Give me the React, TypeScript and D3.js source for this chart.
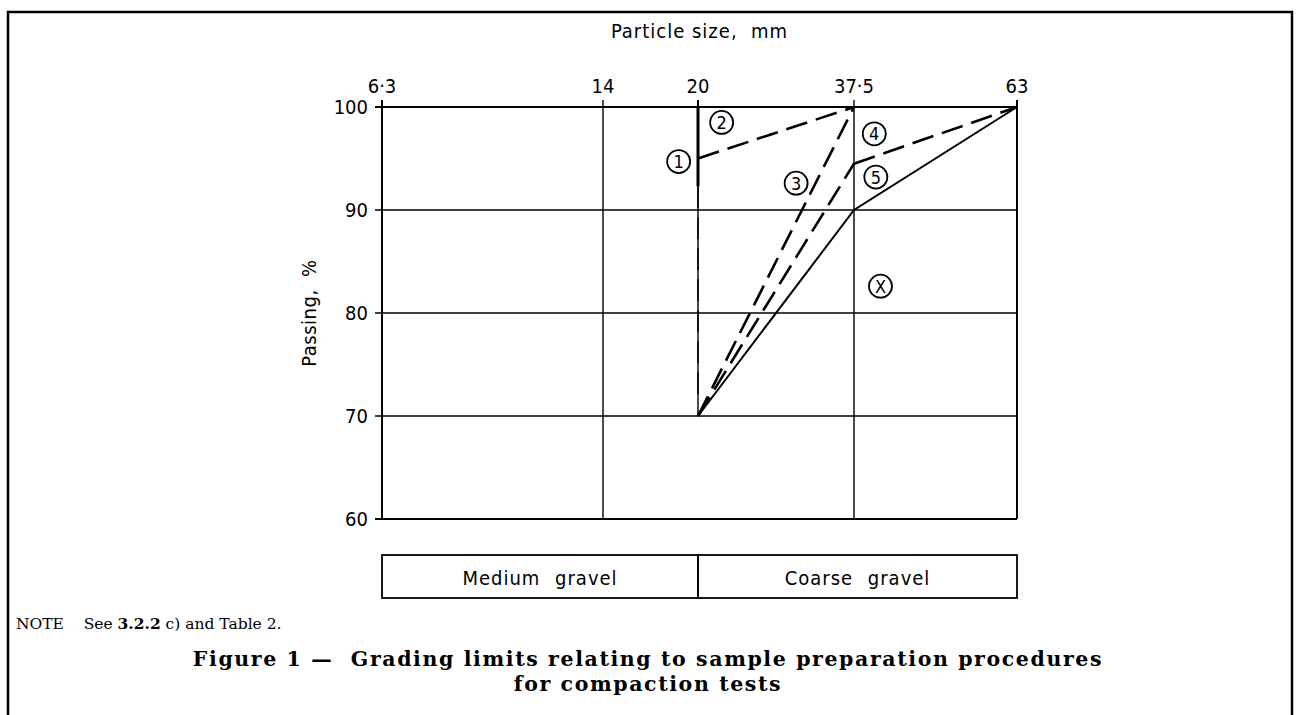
import { useEffect, useRef } from "react";
import * as d3 from "d3";

// sieve sizes along the top (mm) and their printed labels
const sizeTicks = [6.3, 14, 20, 37.5, 63];
const sizeLabels = ["6·3", "14", "20", "37·5", "63"];
// passing percentages on the left
const passTicks = [60, 70, 80, 90, 100];

// grading limit lines, [size mm, passing %]
const line1Thick: [number, number][] = [[20, 100], [20, 92.3]];
const line1Thin: [number, number][] = [[20, 92.3], [20, 72]];
const line2: [number, number][] = [[20, 95], [37.5, 100]];
const line3: [number, number][] = [[20, 70], [37.5, 100]];
const line4: [number, number][] = [[37.5, 94.5], [63, 100]];
const line5: [number, number][] = [[20, 70], [37.5, 94.5]];
const lineX: [number, number][] = [[20, 70], [37.5, 90], [63, 100]];

// circled call-outs: label, size, passing
const callouts: [string, number, number][] = [
  ["1", 18.6, 94.7],
  ["2", 22.0, 98.5],
  ["3", 29.7, 92.6],
  ["4", 40.0, 97.4],
  ["5", 40.2, 93.2],
  ["X", 40.8, 82.6],
];

const zones = [
  { name: "Medium gravel", from: 6.3, to: 20 },
  { name: "Coarse gravel", from: 20, to: 63 },
];

const W = 1299;
const H = 715;
const tech = "'DejaVu Sans Condensed', 'DejaVu Sans', sans-serif";
const serif = "'DejaVu Serif', 'Liberation Serif', serif";

export default function App() {
  const ref = useRef<SVGSVGElement>(null);

  useEffect(() => {
    document.body.style.margin = "0";
    const svg = d3.select(ref.current);
    svg.selectAll("*").remove();

    // piecewise log scale, the printed sieve spacing is not a pure log
    const x = d3.scaleLog().domain(sizeTicks).range([382, 603, 698, 854, 1017]);
    const y = d3.scaleLinear().domain([60, 100]).range([519, 107]);

    // frame
    svg
      .append("path")
      .attr("d", `M8,${H} V12 H1292 V${H}`)
      .attr("fill", "none")
      .attr("stroke", "#000")
      .attr("stroke-width", 2.5);

    const g = svg.append("g");

    // horizontal grid
    g.selectAll("line.h")
      .data(passTicks)
      .join("line")
      .attr("x1", x(6.3) - 7)
      .attr("x2", x(63))
      .attr("y1", (d) => y(d))
      .attr("y2", (d) => y(d))
      .attr("stroke", "#000")
      .attr("stroke-width", (d) => (d === 100 || d === 60 ? 2 : 1.4));

    // vertical grid (20 mm only solid below 70 %)
    g.selectAll("line.v")
      .data(sizeTicks)
      .join("line")
      .attr("x1", (d) => x(d))
      .attr("x2", (d) => x(d))
      .attr("y1", y(100) - 7)
      .attr("y2", (d) => (d === 20 ? y(70) : y(60)))
      .attr("stroke", "#000")
      .attr("stroke-width", (d) => (d === 6.3 || d === 63 ? 2 : 1.4));
    g.append("line")
      .attr("x1", x(20))
      .attr("x2", x(20))
      .attr("y1", y(100) - 7)
      .attr("y2", y(100))
      .attr("stroke", "#000")
      .attr("stroke-width", 2);

    // tick labels
    g.selectAll("text.xt")
      .data(sizeTicks)
      .join("text")
      .attr("x", (d) => x(d))
      .attr("y", y(100) - 14)
      .attr("text-anchor", "middle")
      .style("font-family", tech)
      .style("font-size", "20px")
      .text((d, i) => sizeLabels[i]);

    g.selectAll("text.yt")
      .data(passTicks)
      .join("text")
      .attr("x", x(6.3) - 14)
      .attr("y", (d) => y(d) + 7)
      .attr("text-anchor", "end")
      .style("font-family", tech)
      .style("font-size", "20px")
      .text((d) => d);

    g.append("text")
      .attr("x", (x(6.3) + x(63)) / 2)
      .attr("y", 38)
      .attr("text-anchor", "middle")
      .style("font-family", tech)
      .style("font-size", "20px")
      .style("letter-spacing", "1px")
      .style("white-space", "pre")
      .text("Particle size,  mm");

    g.append("text")
      .attr("transform", `translate(316,${(y(60) + y(100)) / 2}) rotate(-90)`)
      .attr("text-anchor", "middle")
      .style("font-family", tech)
      .style("font-size", "20px")
      .style("letter-spacing", "0.5px")
      .style("white-space", "pre")
      .text("Passing,  %");

    // limit lines
    const line = d3
      .line<[number, number]>()
      .x((d) => x(d[0]))
      .y((d) => y(d[1]));

    const draw = (data: [number, number][], w: number, dash: string | null) =>
      g
        .append("path")
        .attr("d", line(data))
        .attr("fill", "none")
        .attr("stroke", "#000")
        .attr("stroke-width", w)
        .attr("stroke-dasharray", dash);

    draw(line1Thin, 1.5, "22,9");
    draw(line1Thick, 3, null);
    draw(line2, 2.6, "22,9");
    draw(line3, 2.6, "22,9");
    draw(line4, 2.6, "22,9");
    draw(line5, 2.6, "22,9");
    draw(lineX, 2, null);

    // circled labels
    const co = g
      .selectAll("g.co")
      .data(callouts)
      .join("g")
      .attr("transform", (d) => `translate(${x(d[1])},${y(d[2])})`);
    co.append("circle")
      .attr("r", 11.5)
      .attr("fill", "#fff")
      .attr("stroke", "#000")
      .attr("stroke-width", 1.8);
    co.append("text")
      .attr("text-anchor", "middle")
      .attr("y", 6.5)
      .style("font-family", tech)
      .style("font-size", "18px")
      .text((d) => d[0]);

    // gravel zone bar
    const bar = g.append("g");
    bar
      .selectAll("rect")
      .data(zones)
      .join("rect")
      .attr("x", (d) => x(d.from))
      .attr("width", (d) => x(d.to) - x(d.from))
      .attr("y", 555)
      .attr("height", 43)
      .attr("fill", "none")
      .attr("stroke", "#000")
      .attr("stroke-width", 1.8);
    bar
      .selectAll("text")
      .data(zones)
      .join("text")
      .attr("x", (d) => (x(d.from) + x(d.to)) / 2)
      .attr("y", 585)
      .attr("text-anchor", "middle")
      .style("font-family", tech)
      .style("font-size", "20px")
      .style("letter-spacing", "1px")
      .style("word-spacing", "8px")
      .text((d) => d.name);

    // note and caption
    const note = svg
      .append("text")
      .attr("x", 16)
      .attr("y", 629)
      .style("font-family", serif)
      .style("font-size", "15.5px")
      .style("white-space", "pre");
    note.append("tspan").text("NOTE    See ");
    note.append("tspan").style("font-weight", "bold").text("3.2.2");
    note.append("tspan").text(" c) and Table 2.");

    const caption = [
      "Figure 1 —  Grading limits relating to sample preparation procedures",
      "for compaction tests",
    ];
    svg
      .selectAll("text.cap")
      .data(caption)
      .join("text")
      .attr("x", 648)
      .attr("y", (d, i) => 666 + i * 25)
      .attr("text-anchor", "middle")
      .style("font-family", serif)
      .style("font-weight", "bold")
      .style("font-size", "20.5px")
      .style("letter-spacing", "1.6px")
      .style("white-space", "pre")
      .text((d) => d);
  }, []);

  return (
    <svg
      ref={ref}
      width={W}
      height={H}
      style={{ display: "block", background: "#fff" }}
    />
  );
}
